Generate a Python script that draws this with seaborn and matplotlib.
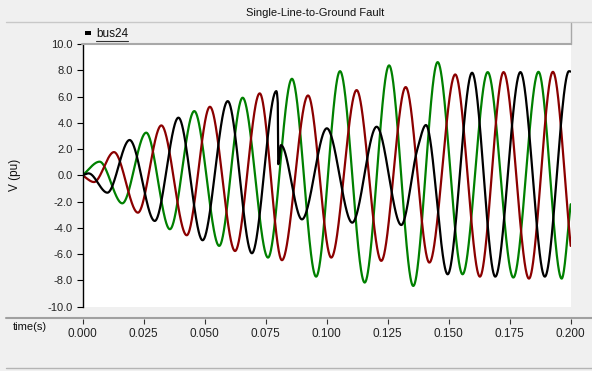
import numpy as np
import pandas as pd
import matplotlib.pyplot as plt
import seaborn as sns
from matplotlib.lines import Line2D
from matplotlib.patches import Rectangle

# peaks / troughs (time in ms, voltage in pu)
black_t = [0, 2.5, 10.2, 19.3, 29.6, 39.3, 49.2, 59.5, 69.4, 79.4, 80.0, 80.2, 81.3,
           89.9, 100.1, 110.5, 120.5, 130.6, 137.2, 140.7, 149.6, 159.6, 169.1,
           179.4, 189.4, 199.3, 200]
black_v = [0, 0.15, -1.32, 2.69, -3.47, 4.39, -4.94, 5.65, -5.93, 6.41, 5.5, 0.85, 2.3,
           -3.35, 3.58, -3.6, 3.70, -3.78, 2.0, 3.83, -7.53, 7.81, -7.71,
           7.86, -7.71, 7.93, 7.9]

green_t = [0, 7.0, 16.3, 26.1, 35.8, 45.8, 56.0, 65.6, 76.0, 85.8, 95.7, 105.5,
           115.6, 125.6, 135.5, 145.5, 155.7, 166.0, 176.5, 186.8, 196.3, 200]
green_v = [0, 1.04, -2.13, 3.25, -4.1, 4.89, -5.37, 5.91, -6.26, 7.35, -7.71, 7.93,
           -8.16, 8.37, -8.42, 8.62, -7.53, 7.86, -7.78, 7.88, -7.86, -2.2]

red_t = [0, 4.7, 12.9, 22.7, 32.3, 42.7, 52.2, 62.5, 72.6, 81.7, 92.4, 101.9,
         112.3, 122.4, 132.4, 142.1, 152.7, 162.8, 172.5, 182.9, 192.7, 200]
red_v = [0, -0.51, 1.77, -2.84, 3.80, -4.56, 5.22, -5.76, 6.24, -6.46, 6.08, -6.26,
         6.49, -6.51, 6.72, -6.64, 7.68, -7.71, 7.86, -7.86, 7.88, -5.37]

x_ticks = [0.000, 0.025, 0.050, 0.075, 0.100, 0.125, 0.150, 0.175, 0.200]
y_ticks = [-10, -8, -6, -4, -2, 0, 2, 4, 6, 8, 10]


def smooth(x, y, xn):
    # monotone cubic through the read extrema (flat at peaks)
    x = np.asarray(x, float)
    y = np.asarray(y, float)
    h = np.diff(x)
    d = np.diff(y) / h
    m = np.zeros_like(y)
    for k in range(1, len(x) - 1):
        if d[k - 1] * d[k] > 0:
            w1 = 2 * h[k] + h[k - 1]
            w2 = h[k] + 2 * h[k - 1]
            m[k] = (w1 + w2) / (w1 / d[k - 1] + w2 / d[k])
    m[0] = d[0]
    m[-1] = d[-1]
    i = np.clip(np.searchsorted(x, xn) - 1, 0, len(x) - 2)
    s = (xn - x[i]) / h[i]
    h00 = 2 * s**3 - 3 * s**2 + 1
    h10 = s**3 - 2 * s**2 + s
    h01 = -2 * s**3 + 3 * s**2
    h11 = s**3 - s**2
    return h00 * y[i] + h10 * h[i] * m[i] + h01 * y[i + 1] + h11 * h[i] * m[i + 1]


tt = np.linspace(0, 200, 2001)
frames = []
for name, t, v in [("c", green_t, green_v), ("b", red_t, red_v), ("a", black_t, black_v)]:
    frames.append(pd.DataFrame({"time": tt / 1000, "V": smooth(t, v, tt), "phase": name}))
df = pd.concat(frames, ignore_index=True)

sns.set_style("white")
plt.rcParams['font.family'] = ['Liberation Sans', 'DejaVu Sans']

W, H = 592, 371
fx = lambda px: px / W
fy = lambda py: 1 - py / H

fig = plt.figure(figsize=(5.92, 3.71), dpi=100, facecolor='#f0f0f0')
ax = fig.add_axes([fx(82.5), fy(306.7), fx(570.7) - fx(82.5), fy(44) - fy(306.7)])
ax.set_facecolor('white')

sns.lineplot(data=df, x="time", y="V", hue="phase", sort=False, estimator=None,
             palette={"a": "black", "b": "#8b0000", "c": "#008000"},
             linewidth=1.6, legend=False, ax=ax)

ax.set_xlim(0, 0.2)
ax.set_ylim(-10, 10)
ax.set_yticks(y_ticks)
ax.set_yticklabels([f"{v:.1f}" for v in y_ticks], fontsize=8, color='#222222')
ax.set_xticks([])
ax.set_xlabel("")
ax.set_ylabel("")
for s in ["top", "right", "bottom"]:
    ax.spines[s].set_visible(False)
ax.spines["left"].set_color("black")
ax.spines["left"].set_linewidth(1.0)
ax.tick_params(axis="y", direction="out", length=4, width=0.8, color="black",
               left=True, pad=3)

# separate time ruler below the plot
rx = fig.add_axes([fx(82.5), fy(319), fx(570.7) - fx(82.5), 0.0005])
rx.set_xlim(0, 0.2)
rx.set_xticks(x_ticks)
rx.set_xticklabels([f"{v:.3f}" for v in x_ticks], fontsize=8.5, color='#222222')
rx.set_yticks([])
rx.patch.set_visible(False)
for s in rx.spines.values():
    s.set_visible(False)
rx.tick_params(axis="x", direction="out", length=3.5, width=0.8, color="#333333",
               bottom=True, pad=3)

# frame lines of the panel
fig.add_artist(Line2D([fx(6), 1], [fy(22), fy(22)], color='#c8c8c8', lw=1.0))
fig.add_artist(Line2D([fx(6), 1], [fy(318), fy(318)], color='#a0a0a0', lw=1.5))
fig.add_artist(Line2D([fx(6), 1], [fy(368), fy(368)], color='#b4b4b4', lw=1.0))
fig.add_artist(Line2D([fx(82), fx(570.5)], [fy(43.5), fy(43.5)], color='#a8a8a8', lw=1.5))
fig.add_artist(Line2D([fx(570.5), fx(570.5)], [fy(23), fy(43.5)], color='#a8a8a8', lw=1.0))

fig.text(fx(315), fy(13), "Single-Line-to-Ground Fault", ha='center', va='center',
         fontsize=8, color='#111111')
fig.add_artist(Rectangle((fx(85), fy(34.5)), 6 / W, 4 / H, color='black', lw=0))
fig.text(fx(96), fy(34), "bus24", ha='left', va='center', fontsize=8.5, color='#111111')
fig.add_artist(Line2D([fx(96), fx(128)], [fy(40.5), fy(40.5)], color='#333333', lw=0.8))
fig.text(fx(13), fy(327), "time(s)", ha='left', va='center', fontsize=8, color='#111111')
fig.text(fx(15), fy(175), "V (pu)", ha='center', va='center', rotation=90,
         fontsize=8.5, color='#111111')

fig.savefig("out.png", dpi=100, facecolor=fig.get_facecolor())
